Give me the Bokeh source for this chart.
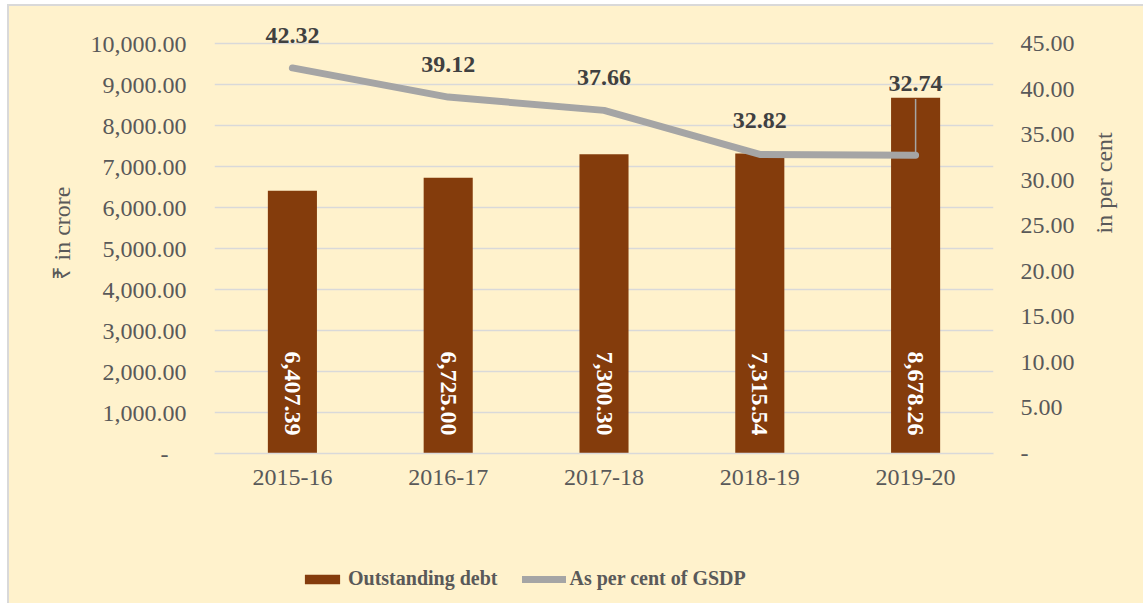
import math
from bokeh.plotting import figure
from bokeh.layouts import column
from bokeh.models import (ColumnDataSource, Range1d, LinearAxis, FixedTicker,
                          CustomJSTickFormatter, Legend, LegendItem, FactorRange)
from bokeh.core.properties import value
from bokeh.embed import file_html
from bokeh.resources import INLINE

# ---- data ----
years = ["2015-16", "2016-17", "2017-18", "2018-19", "2019-20"]
debt = [6407.39, 6725.00, 7300.30, 7315.54, 8678.26]
gsdp_pct = [42.32, 39.12, 37.66, 32.82, 32.74]
debt_labels = ["6,407.39", "6,725.00", "7,300.30", "7,315.54", "8,678.26"]
pct_labels = ["42.32", "39.12", "37.66", "32.82", "32.74"]
left_ticks = [0, 1000, 2000, 3000, 4000, 5000, 6000, 7000, 8000, 9000, 10000]
right_ticks = [0, 5, 10, 15, 20, 25, 30, 35, 40, 45]
series_names = ["Outstanding debt", "As per cent of GSDP"]

# label vertical offsets (px, screen)
pct_label_offsets = [-32, -33, -33, -34, -72]

BG = "#FFF2CC"
BAR = "#843C0C"
LINE = "#A5A5A5"
TXT = "#595959"
LBL = "#404040"
FONT = "Liberation Serif"

# frame extends 30px above the 10000 / 45 gridline so labels are not clipped
PLOT_PX = 410.0   # px between 0 and top tick
EXTRA_PX = 30.0
left_max = 10000 * (PLOT_PX + EXTRA_PX) / PLOT_PX
right_max = 45 * (PLOT_PX + EXTRA_PX) / PLOT_PX

p = figure(width=1134, height=539, x_range=FactorRange(*years),
           y_range=Range1d(0, left_max), output_backend="svg", toolbar_location=None,
           min_border_left=205, min_border_right=150, min_border_top=7,
           min_border_bottom=92)
p.background_fill_color = BG
p.border_fill_color = BG
p.outline_line_color = None
p.extra_y_ranges = {"pct": Range1d(0, right_max)}

src = ColumnDataSource(dict(x=years, debt=debt, pct=gsdp_pct, dl=debt_labels,
                            pl=pct_labels, po=pct_label_offsets))

p.vbar(x="x", top="debt", width=0.315, source=src, fill_color=BAR, line_color=None)
p.line(x="x", y="pct", source=src, y_range_name="pct", line_color=LINE,
       line_width=7, line_cap="round", line_join="round")

# leader line for last label
lead = ColumnDataSource(dict(x0=[years[-1]], y0=[gsdp_pct[-1]], x1=[years[-1]], y1=[38.9]))
p.segment(x0="x0", y0="y0", x1="x1", y1="y1", source=lead, y_range_name="pct",
          line_color=LINE, line_width=1.5)

# bar labels (rotated, inside base)
p.text(x="x", y=0, text="dl", source=src, angle=-math.pi / 2, y_offset=-18,
       text_align="right", text_baseline="middle", text_color="white",
       text_font=value(FONT), text_font_style="bold", text_font_size="24px")

# line labels
p.text(x="x", y="pct", text="pl", source=src, y_range_name="pct", y_offset="po",
       text_align="center", text_baseline="middle", text_color=LBL,
       text_font=value(FONT), text_font_style="bold", text_font_size="24px")

# axes
p.xaxis.axis_line_color = "#D9D9D9"
p.xaxis.axis_line_width = 1.5
p.xaxis.major_tick_line_color = None
p.xaxis.major_tick_out = 0
p.xaxis.minor_tick_line_color = None
p.xaxis.major_label_text_font = FONT
p.xaxis.major_label_text_font_size = "24px"
p.xaxis.major_label_text_color = TXT
p.xaxis.major_label_standoff = 16
p.xgrid.grid_line_color = None

yl = p.yaxis[0]
yl.ticker = FixedTicker(ticks=left_ticks)
yl.formatter = CustomJSTickFormatter(code="""
return tick == 0 ? '-\u00a0\u00a0\u00a0' : tick.toLocaleString('en-US', {minimumFractionDigits: 2, maximumFractionDigits: 2});
""")
yl.axis_line_color = None
yl.major_tick_line_color = None
yl.major_tick_out = 0
yl.minor_tick_line_color = None
yl.major_label_text_font = FONT
yl.major_label_text_font_size = "24px"
yl.major_label_text_color = TXT
yl.major_label_standoff = 28
yl.axis_label = "₹ in crore"
yl.axis_label_text_font = FONT
yl.axis_label_text_font_size = "24px"
yl.axis_label_text_font_style = "normal"
yl.axis_label_text_color = TXT
yl.axis_label_standoff = 13

p.ygrid.ticker = FixedTicker(ticks=left_ticks)
p.ygrid.grid_line_color = "#D9D9D9"
p.ygrid.grid_line_width = 1.5

yr = LinearAxis(y_range_name="pct", ticker=FixedTicker(ticks=right_ticks))
yr.formatter = CustomJSTickFormatter(code="return tick == 0 ? '-' : tick.toFixed(2);")
yr.axis_line_color = None
yr.major_tick_line_color = None
yr.major_tick_out = 0
yr.minor_tick_line_color = None
yr.major_label_text_font = FONT
yr.major_label_text_font_size = "24px"
yr.major_label_text_color = TXT
yr.major_label_standoff = 27
yr.axis_label = "in per cent"
yr.axis_label_text_font = FONT
yr.axis_label_text_font_size = "24px"
yr.axis_label_text_font_style = "normal"
yr.axis_label_text_color = TXT
yr.axis_label_standoff = 26
yr.axis_label_orientation = math.pi / 2
p.add_layout(yr, "right")

# ---- legend strip (separate small figure with hidden proxy glyphs) ----
lg = figure(width=1134, height=58, output_backend="svg", toolbar_location=None,
            min_border=0, x_axis_type=None, y_axis_type=None,
            x_range=FactorRange(*years), y_range=Range1d(0, 1))
lg.background_fill_color = BG
lg.border_fill_color = BG
lg.outline_line_color = None
lg.xgrid.visible = False
lg.ygrid.visible = False
proxy_bar = lg.vbar(x="x", top="debt", width=0.3, source=src, fill_color=BAR,
                    line_color=None, visible=False)
proxy_line = lg.line(x="x", y="pct", source=src, line_color=LINE, line_width=7,
                     line_cap="round", visible=False)

legend = Legend(items=[LegendItem(label=series_names[0], renderers=[proxy_bar]),
                       LegendItem(label=series_names[1], renderers=[proxy_line])],
                orientation="horizontal", location=(86, 13))
legend.background_fill_alpha = 0
legend.border_line_color = None
legend.inactive_fill_alpha = 0
legend.padding = 0
legend.margin = 0
legend.spacing = 24
legend.glyph_width = 44
legend.glyph_height = 12
legend.label_standoff = 4
legend.label_text_font = FONT
legend.label_text_font_size = "20px"
legend.label_text_font_style = "bold"
legend.label_text_color = TXT
lg.add_layout(legend, "center")

root = column(p, lg, spacing=0,
              styles={"background-color": BG, "margin-left": "7px", "margin-top": "4px",
                      "border-left": "2px solid #D9D9D9", "border-top": "2px solid #D9D9D9"})
open("out.html", "w").write(file_html(root, INLINE))
